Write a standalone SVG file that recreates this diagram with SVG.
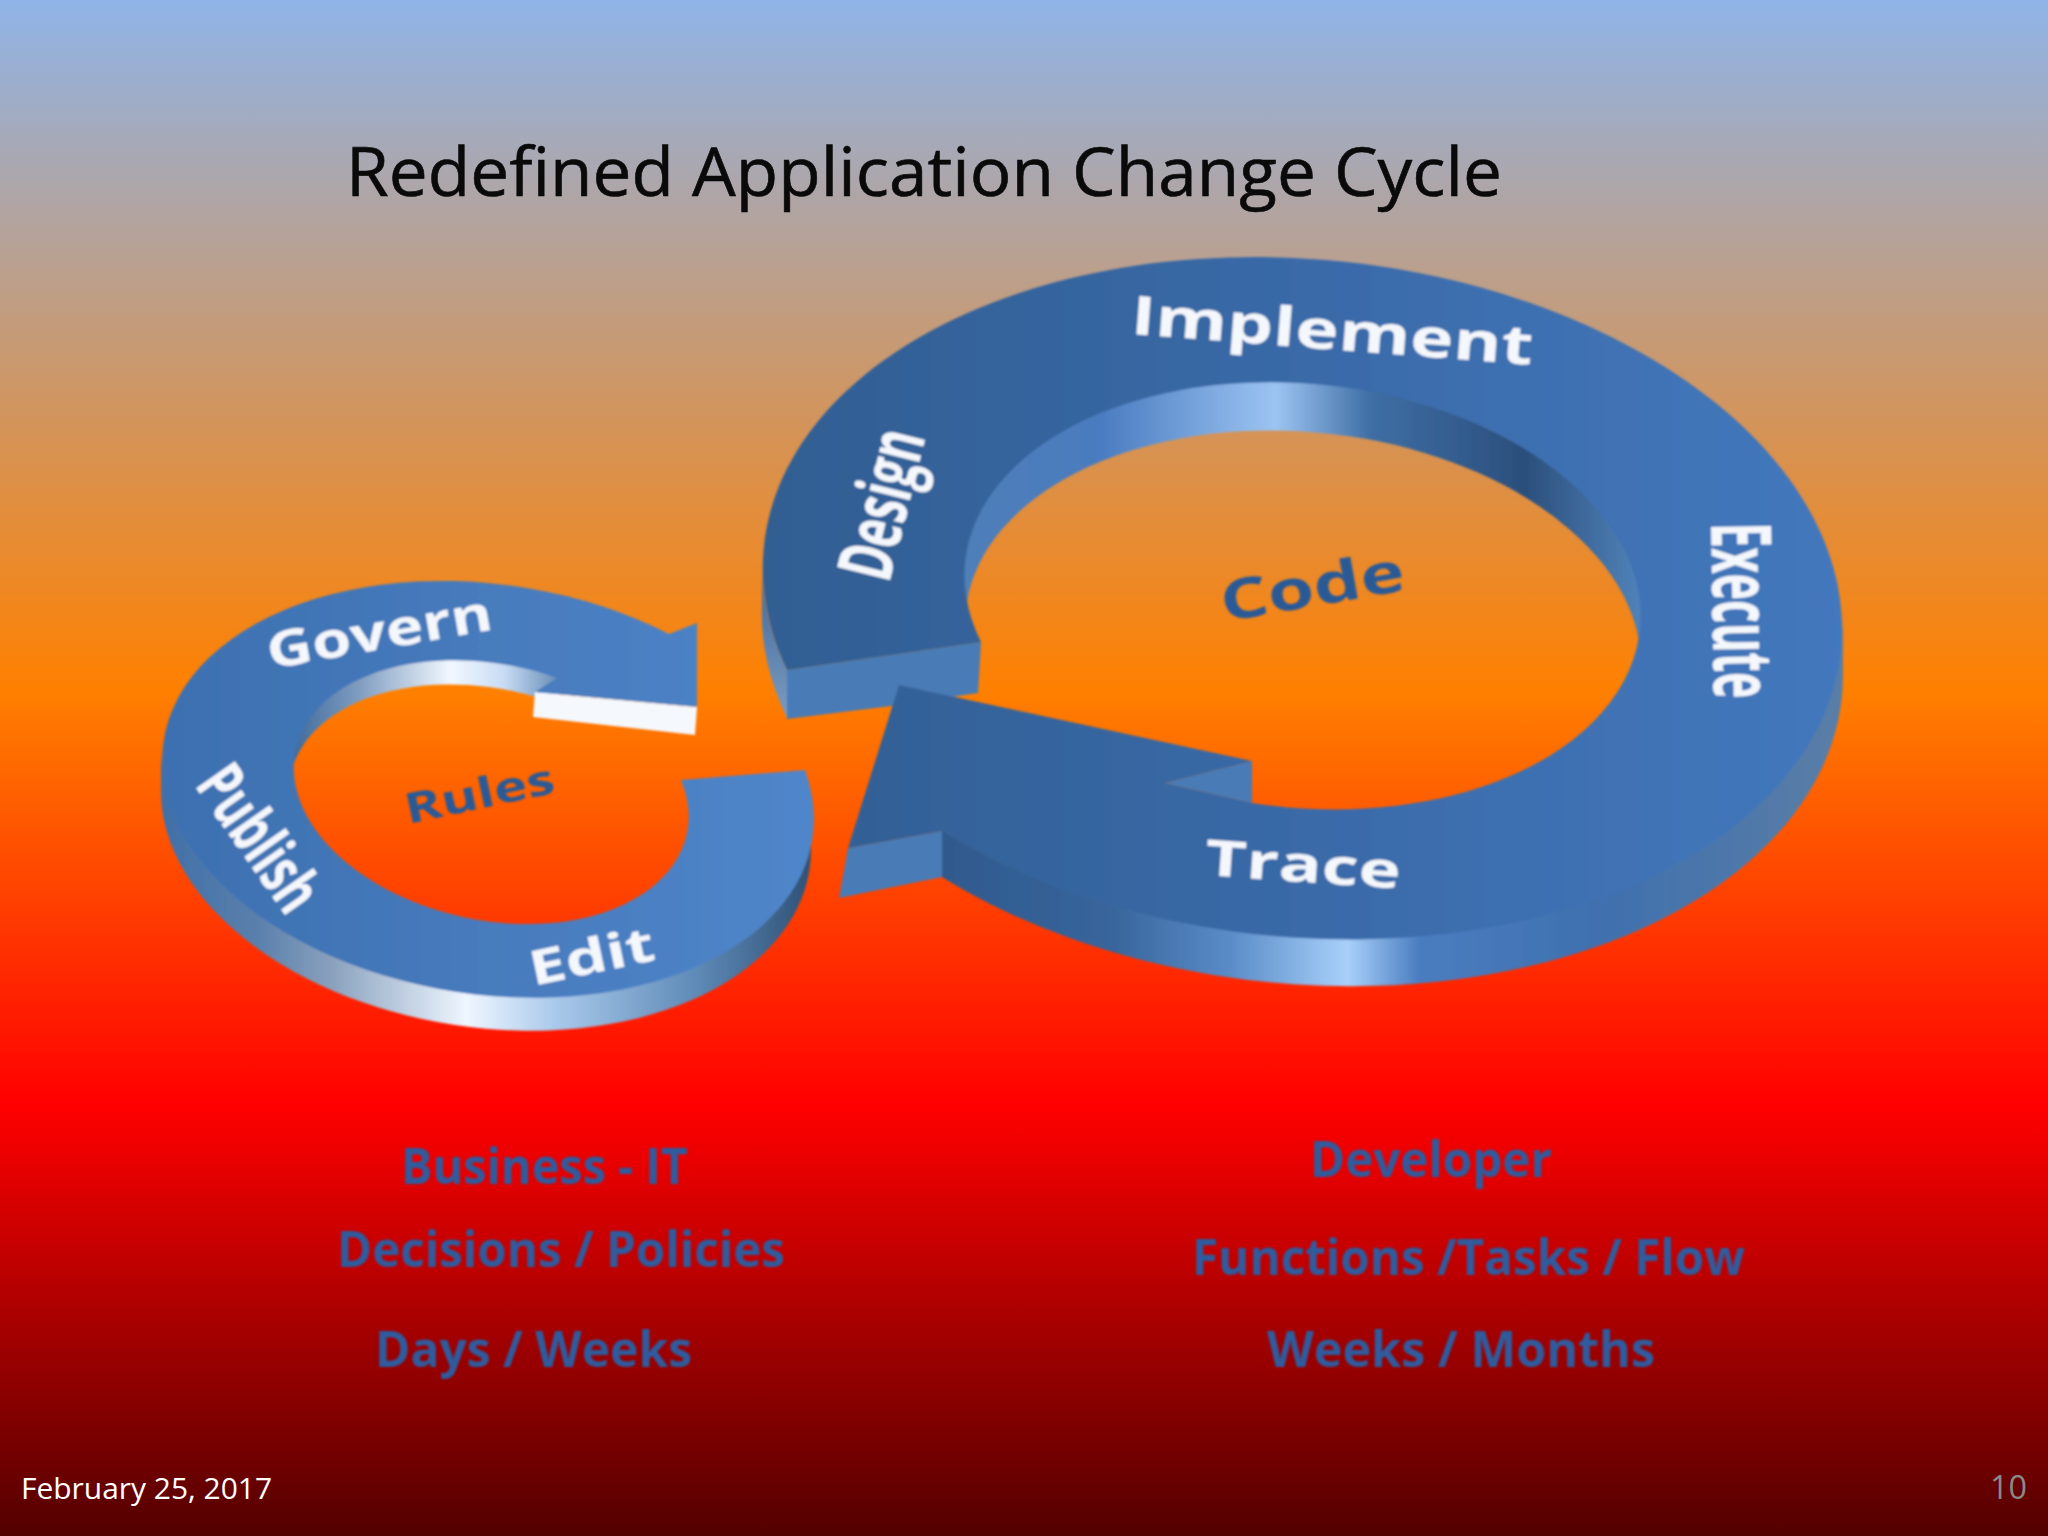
<svg xmlns="http://www.w3.org/2000/svg" width="2048" height="1536" viewBox="0 0 2048 1536">
<style>
.label{font-family:"Open Sans","Noto Sans",sans-serif;font-weight:700;fill:#f4f7fb}
.dark{font-family:"Open Sans","Noto Sans",sans-serif;font-weight:700;fill:#2c5a96}
.sub{font-family:"Open Sans","Noto Sans",sans-serif;font-weight:700;fill:#2f5c9e;font-size:50px}
.side{fill:#4a7bb6}
.soft{filter:url(#soft)}
</style>
<defs>
<filter id="soft" x="-5%" y="-5%" width="110%" height="110%"><feGaussianBlur stdDeviation="0.8"/></filter>
<linearGradient id="bg" x1="0" y1="0" x2="0" y2="1536" gradientUnits="userSpaceOnUse">
<stop offset="0" stop-color="#8fb4e8"/><stop offset="0.45" stop-color="#ff8000"/><stop offset="0.72" stop-color="#ff0000"/><stop offset="1" stop-color="#520000"/>
</linearGradient>
<linearGradient id="bigFace" x1="760" y1="0" x2="1843" y2="0" gradientUnits="userSpaceOnUse">
<stop offset="0" stop-color="#315e92"/><stop offset="0.5" stop-color="#3a6aa8"/><stop offset="1" stop-color="#4378bd"/>
</linearGradient>
<linearGradient id="bigOuter" x1="942" y1="0" x2="1843" y2="0" gradientUnits="userSpaceOnUse">
<stop offset="0" stop-color="#2f5a8e"/><stop offset="0.19" stop-color="#38659c"/><stop offset="0.32" stop-color="#5a8cc8"/><stop offset="0.45" stop-color="#a8d0fa"/><stop offset="0.53" stop-color="#4a7dc0"/><stop offset="0.73" stop-color="#3f70ae"/><stop offset="1" stop-color="#5a7ea6"/>
</linearGradient>
<linearGradient id="bigInner" x1="967" y1="0" x2="1639" y2="0" gradientUnits="userSpaceOnUse">
<stop offset="0" stop-color="#4f7fb8"/><stop offset="0.2" stop-color="#4a7cc0"/><stop offset="0.46" stop-color="#9cc4f2"/><stop offset="0.6" stop-color="#3f6ea5"/><stop offset="0.83" stop-color="#2b4f7c"/><stop offset="1" stop-color="#4f82b8"/>
</linearGradient>
<linearGradient id="bigLeft" x1="0" y1="560" x2="0" y2="720" gradientUnits="userSpaceOnUse">
<stop offset="0" stop-color="#3a6599"/><stop offset="1" stop-color="#7c9cc0"/>
</linearGradient>
<linearGradient id="smallFace" x1="160" y1="0" x2="814" y2="0" gradientUnits="userSpaceOnUse">
<stop offset="0" stop-color="#3d70b0"/><stop offset="1" stop-color="#5086ca"/>
</linearGradient>
<linearGradient id="smallOuter" x1="160" y1="0" x2="812" y2="0" gradientUnits="userSpaceOnUse">
<stop offset="0" stop-color="#3f6fa8"/><stop offset="0.15" stop-color="#5a80ac"/><stop offset="0.26" stop-color="#88a0bd"/><stop offset="0.47" stop-color="#eef6ff"/><stop offset="0.61" stop-color="#a8c8ea"/><stop offset="0.82" stop-color="#5f8bb8"/><stop offset="1" stop-color="#2f5075"/>
</linearGradient>
<linearGradient id="smallInner" x1="292" y1="0" x2="557" y2="0" gradientUnits="userSpaceOnUse">
<stop offset="0" stop-color="#3e6a9c"/><stop offset="0.25" stop-color="#7f9cc0"/><stop offset="0.6" stop-color="#f2f8ff"/><stop offset="0.8" stop-color="#c8dcf4"/><stop offset="1" stop-color="#6a8fb8"/>
</linearGradient>
</defs>

<rect id="background" width="2048" height="1536" fill="url(#bg)"/>

<text id="title" x="346" y="196" font-family="Open Sans,Noto Sans,sans-serif" font-size="68" fill="#0a0a0a" stroke="#0a0a0a" stroke-width="0.6" textLength="1156" lengthAdjust="spacingAndGlyphs">Redefined Application Change Cycle</text>

<g id="small-ring" class="soft">
<path fill="url(#smallOuter)" d="M811 806A320 202 8.45 0 1 161 748L161 792A320 202 8.45 0 0 811 850Z"/>
<path fill="url(#smallInner)" d="M290 778A204 131 12 0 1 560 674L557 704A200 128 12 0 0 290 778Z"/>
<path fill="#f5f8fd" d="M535 692L697 707L695 735L533 717Z"/>
<path fill="url(#smallFace)" d="M805 770A328 205 8.45 1 1 669 634L697 623L697 707L535 692L557 678A200 128 12 1 0 681 780Z"/>
<text class="label" font-size="50" transform="translate(270 669) rotate(-10)" textLength="228" lengthAdjust="spacingAndGlyphs">Govern</text>
<text class="label" font-size="66" transform="translate(194 785) rotate(55)" textLength="162" lengthAdjust="spacingAndGlyphs">Publish</text>
<text class="label" font-size="48" transform="translate(533 986) rotate(-12)" textLength="127" lengthAdjust="spacingAndGlyphs">Edit</text>
<text class="dark" font-size="42" transform="translate(408 824) rotate(-12)" textLength="152" lengthAdjust="spacingAndGlyphs">Rules</text>
</g>

<g id="big-ring" class="soft">
<path fill="url(#bigOuter)" d="M1843 612A541 339 5.3 0 1 942 815L942 877A541 339 5.3 0 0 1843 674Z"/>
<path fill="url(#bigLeft)" d="M762 560A541 339 5.3 0 0 787 670L787 718A541 339 5.3 0 1 762 606Z"/>
<path fill="url(#bigInner)" d="M963 601A344 216 5.66 1 1 1643 641L1639 641A339 212 5.66 0 0 967 601Z"/>
<path class="side" d="M787 670L981 642L978 693L899 705L787 719Z"/>
<path class="side" d="M848 848L942 831L942 877L839 898Z"/>
<path class="side" d="M1165 783L1252 761L1252 803Z"/>
<path fill="url(#bigFace)" d="M787 670A541 339 5.3 1 1 942 831L848 848L899 685L1252 761L1165 783L1252 803A339 212 5.66 1 0 981 642Z"/>
<text class="label" font-size="54" transform="translate(1130 334) rotate(4.4)" textLength="403" lengthAdjust="spacingAndGlyphs">Implement</text>
<text class="label" font-size="76" transform="translate(889 584) rotate(-76)" textLength="152" lengthAdjust="spacingAndGlyphs">Design</text>
<text class="label" font-size="84" transform="translate(1711 523) rotate(89)" textLength="176" lengthAdjust="spacingAndGlyphs">Execute</text>
<text class="label" font-size="50" transform="translate(1204 875) rotate(4)" textLength="196" lengthAdjust="spacingAndGlyphs">Trace</text>
<text class="dark" font-size="56" transform="translate(1224 622) rotate(-10)" textLength="186" lengthAdjust="spacingAndGlyphs">Code</text>
</g>

<g id="captions" class="soft">
<text class="sub" x="401" y="1184" textLength="287" lengthAdjust="spacingAndGlyphs">Business - IT</text>
<text class="sub" x="337" y="1267" textLength="448" lengthAdjust="spacingAndGlyphs">Decisions / Policies</text>
<text class="sub" x="375" y="1367" textLength="317" lengthAdjust="spacingAndGlyphs">Days / Weeks</text>
<text class="sub" x="1310" y="1177" textLength="242" lengthAdjust="spacingAndGlyphs">Developer</text>
<text class="sub" x="1192" y="1275" textLength="553" lengthAdjust="spacingAndGlyphs">Functions /Tasks / Flow</text>
<text class="sub" x="1267" y="1367" textLength="388" lengthAdjust="spacingAndGlyphs">Weeks / Months</text>
</g>

<text id="date" x="21" y="1499" font-family="Open Sans,Noto Sans,sans-serif" font-size="30" fill="#ffffff" textLength="251" lengthAdjust="spacingAndGlyphs">February 25, 2017</text>
<text id="page" x="1990" y="1499" font-family="Open Sans,Noto Sans,sans-serif" font-size="32" fill="#8a8a8a" textLength="37" lengthAdjust="spacingAndGlyphs">10</text>
</svg>
